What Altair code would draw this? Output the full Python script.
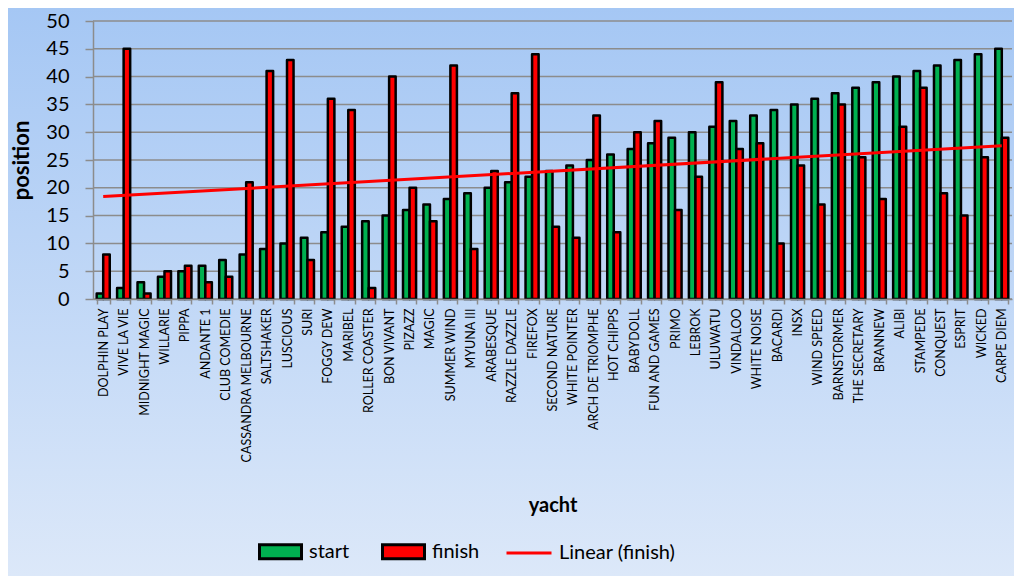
import altair as alt
import pandas as pd

yachts = ["DOLPHIN PLAY", "VIVE LA VIE", "MIDNIGHT MAGIC", "WILLARIE", "PIPPA", "ANDANTE 1",
          "CLUB COMEDIE", "CASSANDRA MELBOURNE", "SALTSHAKER", "LUSCIOUS", "SURI", "FOGGY DEW",
          "MARIBEL", "ROLLER COASTER", "BON VIVANT", "PIZAZZ", "MAGIC", "SUMMER WIND", "MYUNA III",
          "ARABESQUE", "RAZZLE DAZZLE", "FIREFOX", "SECOND NATURE", "WHITE POINTER",
          "ARCH DE TRIOMPHE", "HOT CHIPPS", "BABYDOLL", "FUN AND GAMES", "PRIMO", "LEBROK",
          "ULUWATU", "VINDALOO", "WHITE NOISE", "BACARDI", "INSX", "WIND SPEED", "BARNSTORMER",
          "THE SECRETARY", "BRANNEW", "ALIBI", "STAMPEDE", "CONQUEST", "ESPRIT", "WICKED",
          "CARPE DIEM"]
start = [1, 2, 3, 4, 5, 6, 7, 8, 9, 10, 11, 12, 13, 14, 15, 16, 17, 18, 19, 20, 21, 22, 23,
         24, 25, 26, 27, 28, 29, 30, 31, 32, 33, 34, 35, 36, 37, 38, 39, 40, 41, 42, 43, 44, 45]
finish = [8, 45, 1, 5, 6, 3, 4, 21, 41, 43, 7, 36, 34, 2, 40, 20, 14, 42, 9, 23, 37, 44, 13,
          11, 33, 12, 30, 32, 16, 22, 39, 27, 28, 10, 24, 17, 35, 25.5, 18, 31, 38, 19, 15, 25.5, 29]
series = ["start", "finish"]
series_colors = ["#00b050", "#ff0000"]
y_ticks = [0, 5, 10, 15, 20, 25, 30, 35, 40, 45, 50]

FONT = "Lato"
PAD_L, PAD_T, PAD_R, PAD_B = 85, 13, 2, 277
W = 1006 - PAD_L - PAD_R
H = 568 - PAD_T - PAD_B
GRAY = "#8c8c8c"
N = len(yachts)

df = pd.DataFrame({"yacht": yachts, "idx": list(range(1, N + 1)), "start": start, "finish": finish})
long = df.melt(id_vars=["yacht", "idx"], value_vars=series, var_name="series", value_name="position")

yscale = alt.Scale(domain=[0, 50], nice=False, zero=True)
yaxis = alt.Axis(title="position", values=y_ticks, grid=False, labelFont=FONT,
                 labelFontSize=20, labelColor="black", labelPadding=16, tickSize=8,
                 tickColor=GRAY, tickWidth=1.5, domainColor=GRAY, domainWidth=1.5,
                 zindex=1, titleFont=FONT, titleFontSize=22, titleFontWeight="bold",
                 titleColor="black", titlePadding=12)

bg = alt.Chart(pd.DataFrame({"a": [0]})).mark_rect(
    fill={"gradient": "linear", "x1": 0, "y1": 0, "x2": 0, "y2": 1,
          "stops": [{"offset": 0, "color": "#a5c7f4"}, {"offset": 1, "color": "#dce8f9"}]}
).encode(
    x=alt.value(-PAD_L), x2=alt.value(W + PAD_R),
    y=alt.value(-PAD_T), y2=alt.value(H + PAD_B),
)

grid = alt.Chart(pd.DataFrame({"v": y_ticks})).mark_rule(color=GRAY, strokeWidth=1.5).encode(
    y=alt.Y("v:Q", scale=yscale, axis=yaxis, title="position")
)

PI = 0.36
bars = alt.Chart(long).mark_bar(stroke="black", strokeWidth=2.5, strokeJoin="round").encode(
    x=alt.X("yacht:N", sort=yachts,
            scale=alt.Scale(paddingInner=PI, paddingOuter=PI / 2),
            axis=alt.Axis(title="yacht", labelAngle=-90, labelAlign="right", labelBaseline="middle",
                          labelFont=FONT, labelFontSize=12.5, labelColor="black", labelPadding=4,
                          labelLimit=300, tickBand="extent", tickSize=5, tickColor=GRAY,
                          tickWidth=1.5, domainColor=GRAY, domainWidth=1.5, zindex=1,
                          titleFont=FONT, titleFontSize=20, titleFontWeight="bold",
                          titleColor="black", titlePadding=33)),
    xOffset=alt.XOffset("series:N", sort=series, scale=alt.Scale(paddingInner=0, paddingOuter=0)),
    y=alt.Y("position:Q", scale=yscale, axis=yaxis, title="position"),
    fill=alt.Fill("series:N", sort=series,
                  scale=alt.Scale(domain=series, range=series_colors),
                  legend=alt.Legend(title=None, orient="none", direction="horizontal",
                                    legendX=165, legendY=508, padding=0,
                                    symbolType="M-1,-0.33H1V0.33H-1Z", symbolSize=1764,
                                    symbolStrokeColor="black", symbolStrokeWidth=3,
                                    symbolOpacity=1, labelFont=FONT, labelFontSize=20,
                                    labelColor="black", labelOffset=6, columnPadding=26)),
)

trend = alt.Chart(df).transform_regression(
    "idx", "finish", extent=[1, N]
).transform_calculate(label="'Linear (finish)'").mark_line(strokeWidth=3).encode(
    x=alt.X("idx:Q", scale=alt.Scale(domain=[0.5, N + 0.5], nice=False, zero=False), axis=None),
    y=alt.Y("finish:Q", scale=yscale, axis=yaxis, title="position"),
    stroke=alt.Stroke("label:N", scale=alt.Scale(range=["#ff0000"]),
                      legend=alt.Legend(title=None, orient="none", legendX=412, legendY=508,
                                        padding=0, symbolType="stroke", symbolSize=2025,
                                        symbolStrokeWidth=3, labelFont=FONT, labelFontSize=20,
                                        labelColor="black", labelOffset=6)),
)

chart = alt.layer(bg, grid, bars, trend).resolve_scale(x="independent").properties(
    width=W, height=H,
    autosize=alt.AutoSizeParams(type="none"),
    padding={"left": PAD_L, "top": PAD_T, "right": PAD_R, "bottom": PAD_B},
    background="#dce8f9",
).configure_view(stroke=None)

chart.save("out.html", embed_options={"renderer": "svg", "actions": False})
